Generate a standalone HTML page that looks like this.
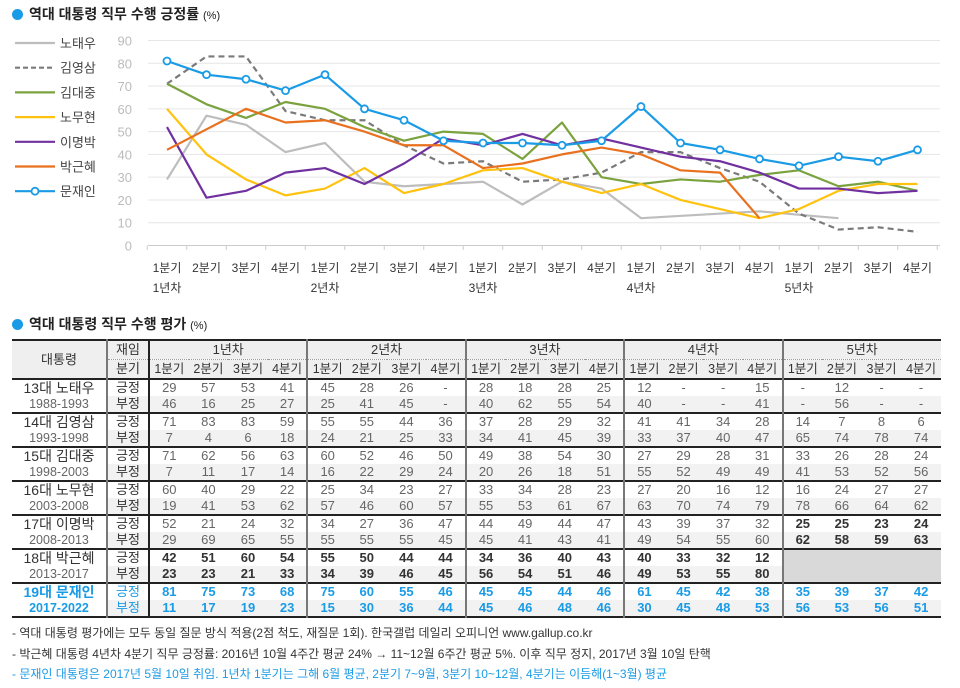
<!DOCTYPE html>
<html><head><meta charset="utf-8">
<style>
body{margin:0;width:960px;height:688px;background:#fff;font-family:"Liberation Sans","Noto Sans CJK KR",sans-serif;position:relative;overflow:hidden}
.title{position:absolute;left:12px;font-size:14px;font-weight:bold;color:#222}
.title .dot{display:inline-block;width:11px;height:11px;border-radius:50%;background:#1a9be6;margin-right:6px;vertical-align:-1px}
.title small{font-size:11px;font-weight:normal}
table{position:absolute;left:12px;top:339px;border-collapse:collapse;table-layout:fixed;font-size:13px;color:#666}
td{padding:0;text-align:center;height:16px;line-height:16px;white-space:nowrap;overflow:hidden}
.hd td{background:#efefef;color:#333;height:18px;line-height:18px}
.note{position:absolute;left:12px;font-size:12px;color:#333}
</style></head><body>
<div class="title" style="top:4px"><span class="dot"></span>역대 대통령 직무 수행 긍정률 <small>(%)</small></div>
<svg id="chart" width="960" height="300" style="position:absolute;left:0;top:0"></svg>
<div class="title" style="top:314px"><span class="dot"></span>역대 대통령 직무 수행 평가 <small>(%)</small></div>
<table id="tbl"></table>
<div class="note" style="top:624px">- 역대 대통령 평가에는 모두 동일 질문 방식 적용(2점 척도, 재질문 1회). 한국갤럽 데일리 오피니언 www.gallup.co.kr</div>
<div class="note" style="top:645px">- 박근혜 대통령 4년차 4분기 직무 긍정률: 2016년 10월 4주간 평균 24% → 11~12월 6주간 평균 5%. 이후 직무 정지, 2017년 3월 10일 탄핵</div>
<div class="note" style="top:665px;color:#1a9be6">- 문재인 대통령은 2017년 5월 10일 취임. 1년차 1분기는 그해 6월 평균, 2분기 7~9월, 3분기 10~12월, 4분기는 이듬해(1~3월) 평균</div>
<script>
const quarters=["1분기","2분기","3분기","4분기"];
const years=["1년차","2년차","3년차","4년차","5년차"];
const yTicks=[0,10,20,30,40,50,60,70,80,90];
const names=["노태우","김영삼","김대중","노무현","이명박","박근혜","문재인"];
const terms=["1988-1993","1993-1998","1998-2003","2003-2008","2008-2013","2013-2017","2017-2022"];
const ordinals=["13대","14대","15대","16대","17대","18대","19대"];
const pos0=[29,57,53,41,45,28,26,null,28,18,28,25,12,null,null,15,null,12,null,null];
const neg0=[46,16,25,27,25,41,45,null,40,62,55,54,40,null,null,41,null,56,null,null];
const pos1=[71,83,83,59,55,55,44,36,37,28,29,32,41,41,34,28,14,7,8,6];
const neg1=[7,4,6,18,24,21,25,33,34,41,45,39,33,37,40,47,65,74,78,74];
const pos2=[71,62,56,63,60,52,46,50,49,38,54,30,27,29,28,31,33,26,28,24];
const neg2=[7,11,17,14,16,22,29,24,20,26,18,51,55,52,49,49,41,53,52,56];
const pos3=[60,40,29,22,25,34,23,27,33,34,28,23,27,20,16,12,16,24,27,27];
const neg3=[19,41,53,62,57,46,60,57,55,53,61,67,63,70,74,79,78,66,64,62];
const pos4=[52,21,24,32,34,27,36,47,44,49,44,47,43,39,37,32,25,25,23,24];
const neg4=[29,69,65,55,55,55,55,45,45,41,43,41,49,54,55,60,62,58,59,63];
const pos5=[42,51,60,54,55,50,44,44,34,36,40,43,40,33,32,12];
const neg5=[23,23,21,33,34,39,46,45,56,54,51,46,49,53,55,80];
const pos6=[81,75,73,68,75,60,55,46,45,45,44,46,61,45,42,38,35,39,37,42];
const neg6=[11,17,19,23,15,30,36,44,45,46,48,46,30,45,48,53,56,53,56,51];
const posAll=[pos0,pos1,pos2,pos3,pos4,pos5,pos6];
const negAll=[neg0,neg1,neg2,neg3,neg4,neg5,neg6];
const colors=["#bdbdbd","#7a7a7a","#7aa33f","#ffc20e","#7030a0","#e8701e","#1a9be6"];

const NS="http://www.w3.org/2000/svg";
const svg=document.getElementById('chart');
function X(i){return 167+i*39.5;}
function Y(v){return 245.5-v*205/90;}
function mk(t,a,p){const e=document.createElementNS(NS,t);for(const k in a)e.setAttribute(k,a[k]);(p||svg).appendChild(e);return e;}
yTicks.forEach(v=>{
  const g=mk('line',{x1:148,x2:940,y1:Y(v),y2:Y(v),stroke:v===0?'#ccc':'#e6e6e6','stroke-width':1});
  
  
  const t=mk('text',{x:132,y:Y(v)+5,'text-anchor':'end','font-size':13,fill:'#bbb'});
  t.textContent=v;
  
  
});
for(let i=0;i<=20;i++){mk('line',{x1:X(i)-19.75,x2:X(i)-19.75,y1:245.5,y2:250,stroke:'#ccc'});}
for(let i=0;i<20;i++){
  const t=mk('text',{x:X(i),y:272,'text-anchor':'middle','font-size':12,fill:'#333'});
  t.textContent=quarters[i%4];
  
  
  if(i%4===0){const y=mk('text',{x:X(i),y:292,'text-anchor':'middle','font-size':12,fill:'#333'});y.textContent=years[i/4];
  
  }
}
posAll.forEach((s,k)=>{
  const pts=[];s.forEach((v,i)=>{if(v!==null)pts.push(X(i)+','+Y(v));});
  const l=mk('polyline',{points:pts.join(' '),fill:'none',stroke:colors[k],'stroke-width':2.2,'stroke-dasharray':k===1?'6,4':'none','stroke-linejoin':'round'});
  
  
  if(k===6)s.forEach((v,i)=>{if(v!==null){const c=mk('circle',{cx:X(i),cy:Y(v),r:3.5,fill:'#fff',stroke:colors[k],'stroke-width':1.8});
    
    }});
  const ly=43+k*24.7;
  const ll=mk('line',{x1:15,x2:55,y1:ly,y2:ly,stroke:colors[k],'stroke-width':2.2,'stroke-dasharray':k===1?'5,3':'none'});
  
  
  if(k===6)mk('circle',{cx:35,cy:ly,r:3.5,fill:'#fff',stroke:colors[k],'stroke-width':1.8});
  const lt=mk('text',{x:60,y:ly+5,'font-size':13,fill:'#444'});lt.textContent=names[k];
  
  
});

// table
const tbl=document.getElementById('tbl');
const cg=document.createElement('colgroup');
const widths=[95,42];for(let i=0;i<20;i++)widths.push(39.6);
widths.forEach(w=>{const c=document.createElement('col');c.style.width=w+'px';cg.appendChild(c);});
tbl.appendChild(cg);
const thick='2px solid #222',mid='2px solid #777';
function colBorder(td,j){
  if(j%4===0)td.style.borderLeft=j===0?thick:mid;
}
let tr=document.createElement('tr');tr.className='hd';tbl.appendChild(tr);
tr.style.borderTop=thick;
let td=document.createElement('td');td.rowSpan=2;td.textContent='대통령';td.style.borderRight=mid;tr.appendChild(td);


td=document.createElement('td');td.textContent='재임';td.style.borderBottom='1px dotted #999';tr.appendChild(td);
years.forEach((y,i)=>{const d=document.createElement('td');d.colSpan=4;d.textContent=y;d.style.borderBottom='1px dotted #999';d.style.borderLeft=i===0?thick:mid;tr.appendChild(d);
  
  });
tr=document.createElement('tr');tr.className='hd';tbl.appendChild(tr);tr.style.borderBottom=thick;
td=document.createElement('td');td.textContent='분기';tr.appendChild(td);
for(let j=0;j<20;j++){const d=document.createElement('td');d.textContent=quarters[j%4];d.style.fontSize='12.5px';colBorder(d,j);tr.appendChild(d);
  
  }
for(let k=0;k<7;k++){
  const blue=k===6;
  for(let r=0;r<2;r++){
    const row=document.createElement('tr');tbl.appendChild(row);
    if(r===1){row.style.borderBottom=thick;row.style.background='#f2f2f2';}
    const n=document.createElement('td');
    n.textContent=r===0?ordinals[k]+' '+names[k]:terms[k];
    n.style.borderRight=mid;n.style.background='#fff';
    n.style.color=blue?'#1a9be6':(r===0?'#333':'#666');n.style.fontSize=r===0?'14px':'12.5px';
    if(blue)n.style.fontWeight='bold';
    
    
    row.appendChild(n);
    const lab=document.createElement('td');lab.textContent=r===0?'긍정':'부정';lab.style.color=blue?'#1a9be6':'#333';row.appendChild(lab);
    
    
    const arr=(r===0?posAll:negAll)[k];
    if(k===5){
      for(let j=0;j<16;j++){const d=document.createElement('td');d.textContent=arr[j];d.style.fontWeight='bold';d.style.color='#333';colBorder(d,j);row.appendChild(d);
        
        }
      if(r===0){const d=document.createElement('td');d.colSpan=4;d.rowSpan=2;d.style.background='#d9d9d9';d.style.borderLeft=mid;row.appendChild(d);
        
        }
      continue;
    }
    for(let j=0;j<20;j++){
      const d=document.createElement('td');const v=arr[j];
      d.textContent=v===null?'-':v;
      if(blue){d.style.color='#1a9be6';d.style.fontWeight='bold';}
      else if(k===4&&j>=16){d.style.color='#333';d.style.fontWeight='bold';}
      colBorder(d,j);
      
      
      row.appendChild(d);
    }
  }
}
</script>
</body></html>
